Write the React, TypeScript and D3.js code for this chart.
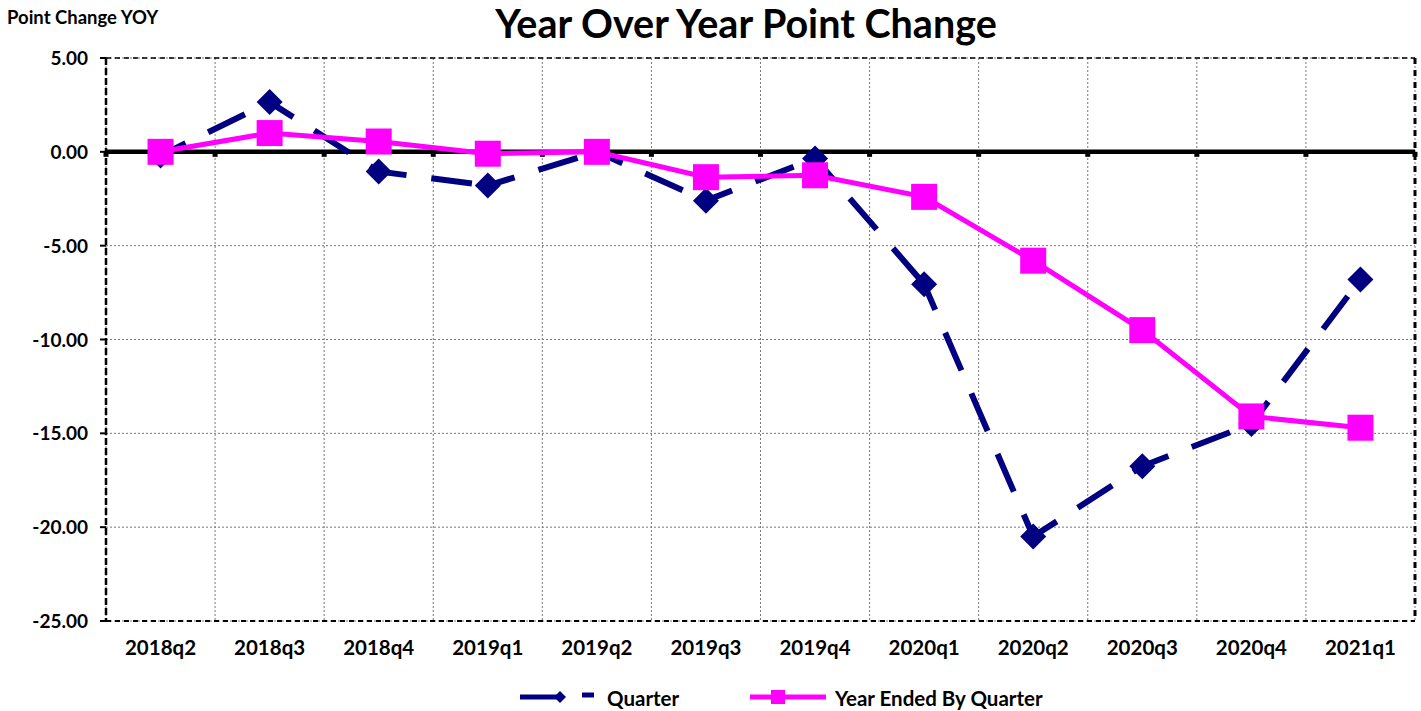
import * as d3 from 'd3'
import React from 'react'

const categories = ['2018q2', '2018q3', '2018q4', '2019q1', '2019q2', '2019q3', '2019q4', '2020q1', '2020q2', '2020q3', '2020q4', '2021q1']
const quarterValues = [-0.2, 2.65, -1.05, -1.8, 0.0, -2.6, -0.35, -7.05, -20.5, -16.75, -14.5, -6.8]
const yearEndedValues = [0.0, 1.0, 0.55, -0.1, 0.0, -1.35, -1.25, -2.4, -5.8, -9.5, -14.1, -14.7]
const yTicks = [5, 0, -5, -10, -15, -20, -25]

const W = 1421
const H = 711
const margin = { top: 58, right: 6, bottom: 90, left: 106 }
const font = 'Lato, "Open Sans", sans-serif'
const navy = '#000080'
const pink = '#FF00FF'

const App: React.FC = () => {
    const x = d3
        .scaleBand()
        .domain(categories)
        .range([margin.left, W - margin.right])
    const y = d3
        .scaleLinear()
        .domain([-25, 5])
        .range([H - margin.bottom, margin.top])

    const cx = (c: string) => (x(c) || 0) + x.bandwidth() / 2

    const left = margin.left
    const right = W - margin.right
    const top = margin.top
    const bottom = H - margin.bottom
    const bounds = categories.map((c) => x(c) || 0).concat([right])

    const diamond = (px: number, py: number, r: number) =>
        `M${px},${py - r}L${px + r},${py}L${px},${py + r}L${px - r},${py}Z`

    // excel restarts the dash pattern on each segment
    const quarterSegs = d3.pairs(quarterValues.map((v, i) => [cx(categories[i]), y(v)] as [number, number]))
    const yearLine = d3
        .line<number>()
        .x((d, i) => cx(categories[i]))
        .y((d) => y(d))

    return (
        <svg width={W} height={H} style={{ position: 'absolute', left: 0, top: 0 }} fontFamily={font}>
            <rect width={W} height={H} fill="#fff" />
            <text x={746} y={38} textAnchor="middle" fontSize={39.5} fontWeight="bold">
                Year Over Year Point Change
            </text>
            <text x={7} y={24} fontSize={18.5} fontWeight="bold">
                Point Change YOY
            </text>

            {/* grid */}
            {yTicks.map((t) => (
                <line key={'h' + t} x1={left} x2={right} y1={y(t)} y2={y(t)} stroke="#777" strokeWidth={1} strokeDasharray="2,2" />
            ))}
            {bounds.map((b, i) => (
                <line key={'v' + i} x1={b} x2={b} y1={top} y2={bottom} stroke="#777" strokeWidth={1} strokeDasharray="2,2" />
            ))}

            {/* frame */}
            <line x1={left} x2={right} y1={top} y2={top} stroke="#000" strokeWidth={1.5} strokeDasharray="5,4" />
            <line x1={left} x2={right} y1={bottom} y2={bottom} stroke="#000" strokeWidth={2} strokeDasharray="5,4" />
            <line x1={left} x2={left} y1={top} y2={bottom} stroke="#000" strokeWidth={2.5} strokeDasharray="7,3" />
            <line x1={right} x2={right} y1={top} y2={bottom} stroke="#000" strokeWidth={3} strokeDasharray="6,6" />

            {/* y ticks & labels */}
            {yTicks.map((t) => (
                <g key={'yt' + t}>
                    <line x1={left - 6} x2={left} y1={y(t)} y2={y(t)} stroke="#000" strokeWidth={2} />
                    <text x={left - 18} y={y(t) + 7} textAnchor="end" fontSize={19} fontWeight="bold">
                        {t.toFixed(2)}
                    </text>
                </g>
            ))}

            {/* zero line */}
            <line x1={left} x2={right} y1={y(0)} y2={y(0)} stroke="#000" strokeWidth={4.5} />
            {bounds.map((b, i) => (
                <rect key={'zt' + i} x={b - 2.5} y={y(0)} width={5} height={5} fill="#000" />
            ))}

            {/* x labels */}
            {categories.map((c) => (
                <text key={c} x={cx(c)} y={bottom + 34} textAnchor="middle" fontSize={20.5} fontWeight="bold">
                    {c}
                </text>
            ))}

            {/* quarter series */}
            {quarterSegs.map(([a, b], i) => (
                <line
                    key={'qs' + i}
                    x1={a[0]}
                    y1={a[1]}
                    x2={b[0]}
                    y2={b[1]}
                    stroke={navy}
                    strokeWidth={6}
                    strokeDasharray="41,25"
                    strokeDashoffset={13}
                />
            ))}
            {quarterValues.map((v, i) => (
                <path key={'q' + i} d={diamond(cx(categories[i]), y(v), 13)} fill={navy} />
            ))}

            {/* year ended series */}
            <path d={yearLine(yearEndedValues) || ''} fill="none" stroke={pink} strokeWidth={5} />
            {yearEndedValues.map((v, i) => (
                <rect key={'y' + i} x={cx(categories[i]) - 13} y={y(v) - 13} width={26} height={26} fill={pink} />
            ))}

            {/* legend */}
            <g>
                <line x1={520} x2={560} y1={697} y2={697} stroke={navy} strokeWidth={5} />
                <path d={diamond(560, 697, 6)} fill={navy} />
                <line x1={582} x2={594} y1={695} y2={695} stroke={navy} strokeWidth={5} />
                <text x={607} y={706} fontSize={20.5} fontWeight="bold">Quarter</text>
                <line x1={750} x2={826} y1={697} y2={697} stroke={pink} strokeWidth={5} />
                <rect x={771} y={690} width={14} height={14} fill={pink} />
                <text x={835} y={706} fontSize={20.5} fontWeight="bold">Year Ended By Quarter</text>
            </g>
        </svg>
    )
}

export default App
